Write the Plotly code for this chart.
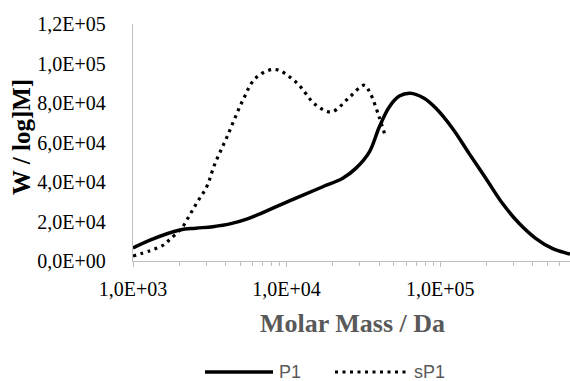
import plotly.graph_objects as go

# ---- data ----
p1_mass = [1.0e3, 1.29e3, 2.02e3, 2.57e3, 3.31e3, 4.27e3, 5.62e3, 7.0e3, 1.16e4, 1.72e4,
           2.32e4, 2.82e4, 3.46e4, 4.02e4, 4.67e4, 5.42e4, 6.38e4, 7.8e4, 9.38e4, 1.20e5,
           1.54e5, 1.98e5, 2.54e5, 3.26e5, 4.18e5, 5.36e5, 6.71e5, 7.0e5]
p1_w = [6.6e3, 1.06e4, 1.57e4, 1.66e4, 1.74e4, 1.88e4, 2.15e4, 2.45e4, 3.2e4, 3.76e4,
        4.19e4, 4.69e4, 5.53e4, 6.8e4, 7.81e4, 8.35e4, 8.49e4, 8.25e4, 7.73e4, 6.72e4,
        5.45e4, 4.19e4, 2.92e4, 1.91e4, 1.15e4, 6.4e3, 3.9e3, 3.5e3]

sp1_mass = [1.0e3, 1.29e3, 1.58e3, 1.74e3, 2.07e3, 2.34e3, 2.63e3, 3.02e3, 3.39e3, 4.1e3,
            5.2e3, 6.3e3, 8.4e3, 1.15e4, 1.55e4, 1.96e4, 2.57e4, 3.2e4, 3.5e4, 4.0e4, 4.4e4]
sp1_w = [2.5e3, 5.2e3, 8.1e3, 1.1e4, 1.65e4, 2.33e4, 3.0e4, 3.76e4, 4.86e4, 6.3e4,
         8.15e4, 9.27e4, 9.7e4, 9.06e4, 7.9e4, 7.55e4, 8.3e4, 8.9e4, 8.5e4, 7.3e4, 6.3e4]

y_ticks = [0, 2e4, 4e4, 6e4, 8e4, 1e5, 1.2e5]
y_labels = ["0,0E+00", "2,0E+04", "4,0E+04", "6,0E+04", "8,0E+04", "1,0E+05", "1,2E+05"]
x_ticks = [1e3, 1e4, 1e5]
x_labels = ["1,0E+03", "1,0E+04", "1,0E+05"]
x_minor = [m * d for d in (1e3, 1e4, 1e5) for m in range(2, 10)]

series_names = ["P1", "sP1"]

# ---- layout geometry (pixels) ----
W, H = 570, 381
L, R, T, B = 133, 0, 24, 120
pw, ph = W - L - R, H - T - B

def px(x):
    return (x - L) / pw

def py(y):
    return (H - B - y) / ph

fig = go.Figure()
fig.add_trace(go.Scatter(x=p1_mass, y=p1_w, mode="lines", name=series_names[0],
                         line=dict(color="black", width=3.5, shape="spline", smoothing=1.0),
                         showlegend=False))
fig.add_trace(go.Scatter(x=sp1_mass, y=sp1_w, mode="lines", name=series_names[1],
                         line=dict(color="black", width=3.2, dash="3px,4.5px", shape="spline", smoothing=1.0),
                         showlegend=False))

tick_font = dict(family="Liberation Serif, Times New Roman, serif", size=20, color="#000000")

fig.update_layout(
    width=W, height=H,
    margin=dict(l=L, r=R, t=T, b=B, pad=0),
    paper_bgcolor="white", plot_bgcolor="white",
    xaxis=dict(type="log", range=[3, 5.845], tickvals=x_ticks, ticktext=x_labels,
               ticks="outside", ticklen=5, tickcolor="#bfbfbf", tickwidth=1,
               minor=dict(tickvals=x_minor, ticks="outside", ticklen=4, tickcolor="#bfbfbf", tickwidth=1),
               showline=True, linecolor="#bfbfbf", linewidth=1.3, showgrid=False, zeroline=False,
               tickfont=tick_font, ticklabelstandoff=5),
    yaxis=dict(range=[0, 1.2e5], tickvals=y_ticks, ticktext=y_labels, ticks="",
               showline=True, linecolor="#bfbfbf", linewidth=1.3, showgrid=False, zeroline=False,
               tickfont=tick_font, ticklabelstandoff=22),
)

# axis titles
fig.add_annotation(text="<b>W / log]M]</b>", xref="paper", yref="paper",
                   x=px(21), y=py(137), xanchor="center", yanchor="middle", textangle=-90,
                   showarrow=False,
                   font=dict(family="Liberation Serif, Times New Roman, serif", size=25, color="#000000"))
fig.add_annotation(text="<b>Molar Mass / Da</b>", xref="paper", yref="paper",
                   x=px(352), y=py(323), xanchor="center", yanchor="middle",
                   showarrow=False,
                   font=dict(family="Liberation Serif, Times New Roman, serif", size=26, color="#595959"))

# legend
leg_y = py(372)
fig.add_shape(type="line", xref="paper", yref="paper", x0=px(205), x1=px(273), y0=leg_y, y1=leg_y,
              line=dict(color="black", width=3.5))
fig.add_shape(type="line", xref="paper", yref="paper", x0=px(335), x1=px(408), y0=leg_y, y1=leg_y,
              line=dict(color="black", width=3.2, dash="3px,4.5px"))
leg_font = dict(family="Liberation Sans, Arial, sans-serif", size=18, color="#595959")
fig.add_annotation(text=series_names[0], xref="paper", yref="paper", x=px(277), y=leg_y,
                   xanchor="left", yanchor="middle", showarrow=False, font=leg_font)
fig.add_annotation(text=series_names[1], xref="paper", yref="paper", x=px(412), y=leg_y,
                   xanchor="left", yanchor="middle", showarrow=False, font=leg_font)

fig.write_html("out.html")
